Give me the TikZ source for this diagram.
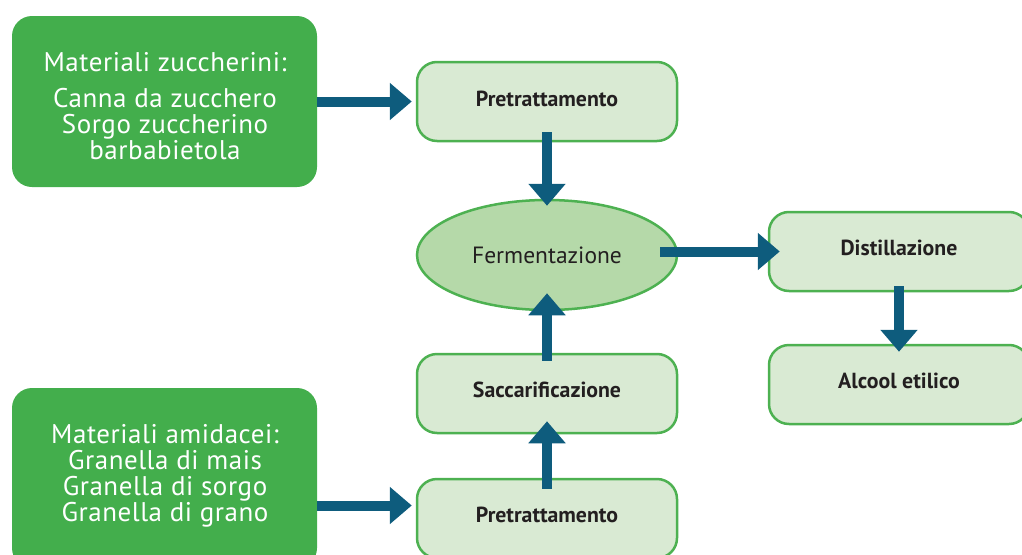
\documentclass[tikz,border=0pt]{standalone}
\usepackage{fontspec}
\setmainfont{PT Sans}
\newfontfamily\srcfont{PT Sans}[LetterSpace=2]
\newfontfamily\ovalfont{PT Sans}
\newfontfamily\stepfont{PT Sans}
\usetikzlibrary{arrows.meta,shapes.geometric}
\definecolor{srcgreen}{HTML}{43AE4C}
\definecolor{stepfill}{HTML}{D9EAD3}
\definecolor{stepline}{HTML}{4DB151}
\definecolor{ovalfill}{HTML}{B5D9A9}
\definecolor{flowblue}{HTML}{0E5C7D}
\definecolor{ink}{HTML}{231F20}
\tikzset{
  srcbox/.style={draw=none, fill=srcgreen, rounded corners=20pt,
    minimum width=305pt, inner sep=0pt},
  srctext/.style={text=white, align=center, inner sep=0pt,
    font=\srcfont\fontsize{27}{26}\selectfont},
  stepbox/.style={draw=stepline, line width=2.5pt, fill=stepfill,
    rounded corners=20pt, minimum width=260pt, minimum height=79pt,
    inner sep=0pt},
  steptext/.style={text=ink, inner sep=0pt,
    font=\stepfont\bfseries\fontsize{21.8}{22}\selectfont},
  ovalbox/.style={ellipse, draw=stepline, line width=2.5pt, fill=ovalfill,
    minimum width=260pt, minimum height=110pt, text=ink,
    font=\ovalfont\fontsize{23.5}{26}\selectfont, inner sep=0pt},
  flow/.style={draw=flowblue, line width=10pt,
    -{Triangle[width=36pt,length=22pt]}}
}
\begin{document}
\begin{tikzpicture}[x=1pt,y=-1pt]
\useasboundingbox (0,0) rectangle (1022,554);
\begin{scope}
\clip (0,0) rectangle (1022,554);
% raw material boxes
\node[srcbox, minimum height=171pt] (g1) at (164.5,101.5) {};
\node[srcbox, minimum height=180pt] (g2) at (164.5,478) {};
\node[srctext] (t1a) at (165,62) {Materiali zuccherini:};
\node[srctext] (t1b) at (165,124) {Canna da zucchero\\Sorgo zuccherino\\barbabietola};
\node[srctext] (t2) at (165,476) {Materiali amidacei:\\Granella di mais\\Granella di sorgo\\Granella di grano};
% process steps
\node[stepbox] (pre1) at (547,101.5) {};
\node[ovalbox] (ferm) at (547,255) {Fermentazione};
\node[stepbox] (sacc) at (547,393.5) {};
\node[stepbox] (pre2) at (547,518.5) {};
\node[stepbox] (dist) at (899,251.5) {};
\node[stepbox] (alc) at (899,384.5) {};
\node[steptext] (l1) at (547,99) {Pretrattamento};
\node[steptext] (l2) at (547,390) {Saccarificazione};
\node[steptext] (l3) at (547,515) {Pretrattamento};
\node[steptext] (l4) at (899,248) {Distillazione};
\node[steptext] (l5) at (899,381) {Alcool etilico};
% flows
\draw[flow, shorten >=4pt] (g1.east) -- (pre1.west);
\coordinate (in2) at ([yshift=13pt]pre2.west);
\draw[flow, shorten >=4pt] (g2.east |- in2) -- (in2);
\draw[flow, shorten <=-10pt, shorten >=-7pt] (pre1.south) -- (ferm.north);
\draw[flow, shorten <=-18pt, shorten >=-12pt] (ferm.east |- dist.west) -- (dist.west);
\draw[flow, shorten <=-6pt, shorten >=-8pt] (dist.south) -- (alc.north);
\draw[flow, shorten <=-8pt, shorten >=-18pt] (sacc.north) -- (ferm.south);
\draw[flow, shorten <=-11pt, shorten >=-13pt] (pre2.north) -- (sacc.south);
\end{scope}
\end{tikzpicture}
\end{document}
